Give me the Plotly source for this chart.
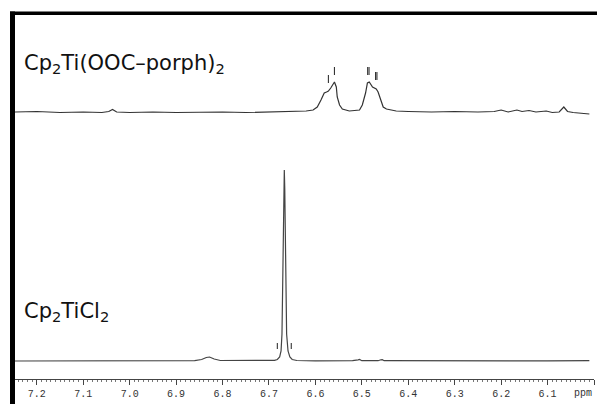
import plotly.graph_objects as go

# ---- data (ppm, intensity in arbitrary units) ----
top_ppm = [7.247, 7.20, 7.15, 7.10, 7.06, 7.045, 7.037, 7.028, 7.00, 6.95, 6.90, 6.85, 6.80,
           6.75, 6.70, 6.65, 6.62, 6.605, 6.596, 6.588, 6.581, 6.576, 6.572, 6.567, 6.563,
           6.559, 6.555, 6.553, 6.548, 6.542, 6.527, 6.505, 6.499, 6.492, 6.488, 6.484,
           6.477, 6.473, 6.469, 6.465, 6.458, 6.454, 6.447, 6.426, 6.40, 6.35, 6.30, 6.25,
           6.215, 6.200, 6.185, 6.166, 6.155, 6.140, 6.125, 6.103, 6.090, 6.075, 6.065,
           6.057, 6.045, 6.010]
top_int = [267, 267.5, 266.5, 267, 266.5, 267.5, 269.5, 267, 266.5, 267, 266.5, 267, 267,
           266.5, 267, 267.5, 268, 269, 272, 279, 286, 287, 288, 291, 294,
           297, 292, 282, 274, 270, 268, 269, 274, 286, 296, 297,
           292, 291, 290, 287, 277, 272, 270, 268, 267.5, 267, 267.5, 267,
           267.5, 269, 267, 269, 267.5, 268.5, 267, 268, 266.5, 267, 272,
           267.5, 266.5, 265]

bot_ppm = [7.247, 7.10, 6.98, 6.90, 6.86, 6.845, 6.835, 6.828, 6.818, 6.805, 6.74, 6.70,
           6.688, 6.682, 6.677, 6.674, 6.672, 6.670, 6.668, 6.667, 6.666, 6.664, 6.662,
           6.659, 6.655, 6.650, 6.640, 6.60, 6.55, 6.52, 6.508, 6.505, 6.500, 6.465, 6.459,
           6.456, 6.452, 6.40, 6.35, 6.30, 6.20, 6.10, 6.010]
bot_int = [18, 18, 18.2, 18.5, 18.3, 19.5, 21.5, 22, 20, 18.5, 18.3, 18.2,
           18.6, 19.5, 22, 28, 45, 110, 190, 209, 190, 110, 45,
           28, 22, 19.5, 18.5, 18.2, 18, 18.3, 19.2, 19.5, 18.3, 18.3, 19.2,
           19.3, 18.3, 18.2, 18.5, 18.2, 18.3, 18.2, 18.4]

# peak-pick marks: position (ppm), lower and upper intensity
mark_ppm = [6.682, 6.652, 6.572, 6.559, 6.4875, 6.4845, 6.4705, 6.4675]
mark_lo = [30, 30, 296, 304, 304, 304, 299, 299]
mark_hi = [36, 36, 304, 312, 312, 312, 307, 307]

tick_vals = [7.2, 7.1, 7.0, 6.9, 6.8, 6.7, 6.6, 6.5, 6.4, 6.3, 6.2, 6.1, 6.0]
tick_text = ["7.2", "7.1", "7.0", "6.9", "6.8", "6.7", "6.6", "6.5", "6.4", "6.3", "6.2", "6.1", ""]

labels = ["Cp<sub>2</sub>Ti(OOC–porph)<sub>2</sub>", "Cp<sub>2</sub>TiCl<sub>2</sub>"]

# ---- figure ----
fig = go.Figure()
fig.add_trace(go.Scatter(x=top_ppm, y=top_int, mode="lines",
                         line=dict(color="#333333", width=1.2), hoverinfo="skip"))
fig.add_trace(go.Scatter(x=bot_ppm, y=bot_int, mode="lines",
                         line=dict(color="#444444", width=1.2), hoverinfo="skip"))

mx, my = [], []
for p, lo, hi in zip(mark_ppm, mark_lo, mark_hi):
    mx += [p, p, None]
    my += [lo, hi, None]
fig.add_trace(go.Scatter(x=mx, y=my, mode="lines",
                         line=dict(color="#333333", width=1.1), hoverinfo="skip"))

# the html body has an 8px default margin on every side; size the figure so
# that the page does not overflow (no scrollbars) and place content in page pixels
OFF = 8
W, H = 605 - 2 * OFF, 412 - 2 * OFF
# plot area in page pixels: x 15..594, y 15..379
L = 15 - OFF
T = 15 - OFF
R = W - (594 - OFF)
B = H - (379 - OFF)
pw, ph = W - L - R, H - T - B


def px_x(v):  # page pixel -> paper x
    return (v - OFF - L) / pw


def px_y(v):  # page pixel -> paper y
    return (H - B - (v - OFF)) / ph


# black frame bars (top and left)
fig.add_shape(type="rect", xref="paper", yref="paper",
              x0=px_x(10), x1=px_x(606), y0=px_y(15), y1=px_y(11.5),
              fillcolor="black", line=dict(width=0), layer="above")
fig.add_shape(type="rect", xref="paper", yref="paper",
              x0=px_x(10), x1=px_x(15), y0=px_y(413), y1=px_y(11.5),
              fillcolor="black", line=dict(width=0), layer="above")

fig.add_annotation(text=labels[0], xref="paper", yref="paper",
                   x=px_x(22), y=px_y(64), xanchor="left", yanchor="middle",
                   showarrow=False, font=dict(family="DejaVu Sans", size=21, color="#111111"))
fig.add_annotation(text=labels[1], xref="paper", yref="paper",
                   x=px_x(22), y=px_y(312), xanchor="left", yanchor="middle",
                   showarrow=False, font=dict(family="DejaVu Sans", size=21, color="#111111"))
fig.add_annotation(text="ppm", xref="paper", yref="paper",
                   x=px_x(594), y=px_y(393), xanchor="right", yanchor="middle",
                   showarrow=False, font=dict(family="Liberation Mono", size=10, color="#333333"))

fig.update_layout(
    width=W, height=H,
    margin=dict(l=L, r=R, t=T, b=B, pad=0),
    paper_bgcolor="white", plot_bgcolor="white",
    showlegend=False,
    xaxis=dict(range=[7.247, 6.0], showgrid=False, zeroline=False,
               showline=True, linecolor="#444444", linewidth=1,
               tickmode="array", tickvals=tick_vals, ticktext=tick_text,
               ticks="outside", ticklen=5, tickwidth=1, tickcolor="#444444",
               tickfont=dict(family="Liberation Mono", size=10, color="#333333"),
               minor=dict(tickmode="linear", tick0=6.0, dtick=0.01, ticks="outside",
                          ticklen=2, tickwidth=1, tickcolor="#777777", showgrid=False),
               fixedrange=True),
    yaxis=dict(range=[0, ph], visible=False, fixedrange=True),
)

fig.write_html("out.html")
